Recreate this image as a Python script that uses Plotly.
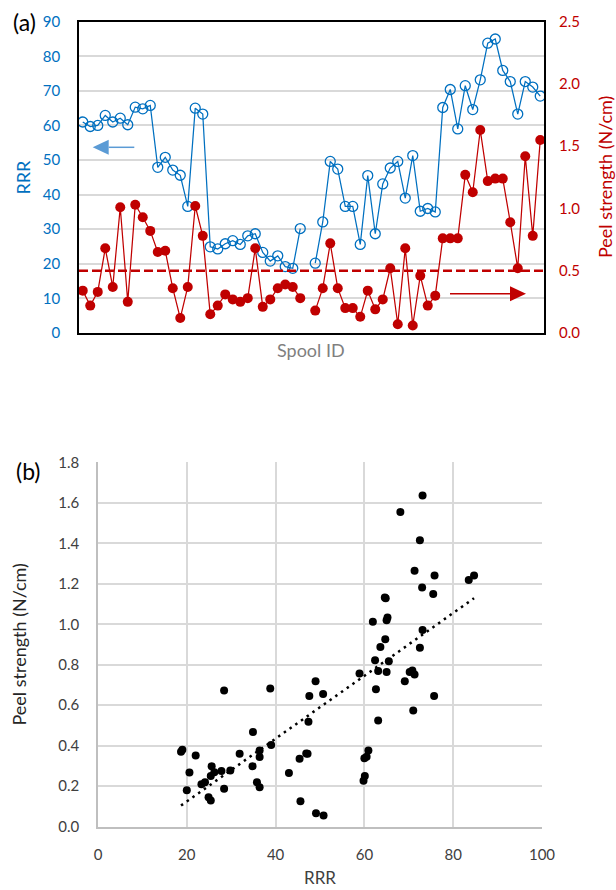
import numpy as np
import plotly.graph_objects as go

# ---------------- data ----------------
spool_id = list(range(1, 63))
rrr = [61.0, 59.7, 60.0, 62.9, 61.0, 62.1, 60.2, 65.3, 64.8, 65.8,
       47.9, 50.8, 47.1, 45.6, 36.6, 65.0, 63.3, 24.9, 24.3, 25.8,
       26.7, 25.6, 28.1, 28.7, 23.3, 20.8, 22.3, 19.2, 18.7, 30.2,
       None, 20.2, 32.1, 49.6, 47.4, 36.6, 36.6, 25.6, 45.5, 28.7,
       43.1, 47.7, 49.6, 39.0, 51.3, 35.2, 36.0, 35.0, 65.2, 70.4,
       59.0, 71.5, 64.6, 73.2, 83.8, 85.0, 75.9, 72.7, 63.3, 72.7,
       71.1, 68.5]
peel = [0.34, 0.22, 0.33, 0.68, 0.37, 1.01, 0.25, 1.03, 0.93, 0.82,
        0.65, 0.66, 0.36, 0.12, 0.37, 1.02, 0.78, 0.15, 0.22, 0.31,
        0.27, 0.25, 0.28, 0.68, 0.21, 0.27, 0.36, 0.39, 0.37, 0.28,
        None, 0.18, 0.36, 0.72, 0.36, 0.20, 0.20, 0.13, 0.34, 0.19,
        0.27, 0.52, 0.07, 0.68, 0.06, 0.46, 0.22, 0.30, 0.76, 0.76,
        0.76, 1.27, 1.13, 1.63, 1.22, 1.24, 1.24, 0.89, 0.52, 1.42,
        0.78, 1.55]
peel_threshold = 0.5

scatter_rrr = [18.7, 19.0, 22.0, 20.6, 20.0, 23.3, 24.1, 25.4, 25.6, 26.2,
               27.8, 24.9, 25.4, 28.4, 28.4, 29.8, 31.9, 34.9, 34.8, 36.4,
               36.4, 35.8, 36.4, 38.8, 39.0, 43.0, 45.4, 46.9, 47.2, 45.6,
               47.6, 49.0, 50.7, 47.4, 49.1, 50.8, 60.9, 60.5, 60.0, 60.1,
               59.8, 73.1, 68.1, 72.5, 71.3, 75.8, 83.5, 84.7, 73.0, 75.5,
               64.6, 64.8, 61.9, 65.0, 65.2, 73.1, 64.7, 72.5, 63.6, 62.4,
               65.5, 58.9, 63.1, 65.0, 70.2, 70.8, 71.3, 69.1, 62.6, 75.7,
               71.0, 63.1]
scatter_peel = [0.370, 0.380, 0.352, 0.268, 0.180, 0.210, 0.220, 0.250, 0.298, 0.269,
                0.275, 0.145, 0.129, 0.187, 0.673, 0.278, 0.360, 0.468, 0.299, 0.377,
                0.344, 0.220, 0.195, 0.683, 0.403, 0.265, 0.336, 0.362, 0.360, 0.126,
                0.645, 0.719, 0.655, 0.518, 0.066, 0.055, 0.376, 0.346, 0.338, 0.250,
                0.227, 1.636, 1.554, 1.415, 1.264, 1.241, 1.218, 1.241, 1.182, 1.149,
                1.132, 1.128, 1.012, 1.020, 1.033, 0.972, 0.926, 0.884, 0.888, 0.822,
                0.817, 0.757, 0.769, 0.764, 0.764, 0.772, 0.752, 0.719, 0.679, 0.645,
                0.574, 0.524]

rrr_ticks = list(range(0, 91, 10))
peel_ticks_top = [0.0, 0.5, 1.0, 1.5, 2.0, 2.5]
rrr_ticks_b = [0, 20, 40, 60, 80, 100]
peel_ticks_b = [0.0, 0.2, 0.4, 0.6, 0.8, 1.0, 1.2, 1.4, 1.6, 1.8]

# ---------------- styling ----------------
W, H = 616, 890
FONT = "Lato"
BLUE = "#0070C0"
RED = "#C00000"
ARROW_BLUE = "#5B9BD5"

def fx(px):
    return px / W

def fy(py):
    return 1 - py / H

fig = go.Figure()

fig.add_trace(go.Scatter(
    x=spool_id, y=rrr, mode="lines+markers", connectgaps=False,
    line=dict(color=BLUE, width=1.25),
    marker=dict(symbol="circle-open", size=10, color=BLUE, line=dict(width=1.3)),
    xaxis="x", yaxis="y", showlegend=False))

fig.add_trace(go.Scatter(
    x=spool_id, y=peel, mode="lines+markers", connectgaps=False,
    line=dict(color=RED, width=1.25),
    marker=dict(symbol="circle", size=10, color=RED),
    xaxis="x", yaxis="y2", showlegend=False))

fig.add_trace(go.Scatter(
    x=scatter_rrr, y=scatter_peel, mode="markers",
    marker=dict(symbol="circle", size=8, color="black"),
    xaxis="x2", yaxis="y3", showlegend=False))

# linear trendline fitted to the scatter data
coef = np.polyfit(scatter_rrr, scatter_peel, 1)
tx = np.array([min(scatter_rrr), max(scatter_rrr)])
fig.add_trace(go.Scatter(
    x=tx, y=np.polyval(coef, tx), mode="lines",
    line=dict(color="black", width=2.5, dash="2.5px,4.5px"),
    xaxis="x2", yaxis="y3", showlegend=False, hoverinfo="skip"))

tickfont_a = dict(family=FONT, size=15)
fig.update_layout(
    width=W, height=H,
    margin=dict(l=0, r=0, t=0, b=0),
    paper_bgcolor="white", plot_bgcolor="white",
    font=dict(family=FONT),
    xaxis=dict(domain=[fx(79), fx(544)], anchor="y", range=[0.5, 62.5],
               showticklabels=False, showgrid=False, zeroline=False,
               showline=True, mirror=True, linecolor="black", linewidth=1.5,
               automargin=False),
    yaxis=dict(domain=[fy(333), fy(21.7)], anchor="x", range=[0, 90],
               tickvals=rrr_ticks, showgrid=True, gridcolor="#D9D9D9", gridwidth=1.5,
               zeroline=False, showline=True, mirror=True, linecolor="black",
               linewidth=1.5, tickfont=dict(tickfont_a, color=BLUE),
               ticklabelstandoff=14, automargin=False),
    yaxis2=dict(overlaying="y", side="right", anchor="x", range=[0, 2.5],
                tickvals=peel_ticks_top, tickformat=".1f", showgrid=False,
                zeroline=False, showline=False,
                tickfont=dict(tickfont_a, color=RED),
                ticklabelstandoff=14, automargin=False),
    xaxis2=dict(domain=[fx(98), fx(542)], anchor="y3", range=[0, 100],
                tickvals=rrr_ticks_b, showgrid=True, gridcolor="#D9D9D9", gridwidth=1.5,
                zeroline=False, showline=True, linecolor="#BFBFBF", linewidth=1.5,
                tickfont=dict(tickfont_a, color="#404040"),
                ticklabelstandoff=14, automargin=False),
    yaxis3=dict(domain=[fy(826.7), fy(462.3)], anchor="x2", range=[0, 1.8],
                tickvals=peel_ticks_b, tickformat=".1f", showgrid=True,
                gridcolor="#D9D9D9", gridwidth=1.5, zeroline=False,
                showline=True, linecolor="#BFBFBF", linewidth=1.5,
                tickfont=dict(tickfont_a, color="#404040"),
                ticklabelstandoff=14, automargin=False),
)

# threshold dashed line
fig.add_shape(type="line", xref="x domain", yref="y2", x0=0, x1=1,
              y0=peel_threshold, y1=peel_threshold,
              line=dict(color=RED, width=2.5, dash="9px,4px"))

# direction arrows (decorations)
def arrow(x_tail, x_tip, y, color, head_len=16, half_h=7.5):
    sgn = 1 if x_tip > x_tail else -1
    base = x_tip - sgn * head_len
    fig.add_shape(type="line", xref="paper", yref="paper",
                  x0=fx(x_tail), x1=fx(base), y0=fy(y), y1=fy(y),
                  line=dict(color=color, width=1.5))
    path = (f"M {fx(x_tip)},{fy(y)} L {fx(base)},{fy(y - half_h)} "
            f"L {fx(base)},{fy(y + half_h)} Z")
    fig.add_shape(type="path", xref="paper", yref="paper", path=path,
                  fillcolor=color, line=dict(color=color, width=0))

arrow(134.3, 92.7, 147.3, ARROW_BLUE)
arrow(450, 526, 293.7, RED)

def label(text, px, py, size=18, color="black", angle=0):
    fig.add_annotation(text=text, x=fx(px), y=fy(py), xref="paper", yref="paper",
                       showarrow=False, xanchor="center", yanchor="middle",
                       textangle=angle, font=dict(family=FONT, size=size, color=color))

label("(a)", 24, 22, size=23)
label("(b)", 28, 471, size=23)
label("RRR", 22.5, 177, color=BLUE, angle=-90)
label("Peel strength (N/cm)", 605, 177, color=RED, angle=-90)
label("Spool ID", 311, 350, color="#7F7F7F")
label("Peel strength (N/cm)", 18.5, 645, color="#262626", angle=-90)
label("RRR", 320, 877, size=17, color="#404040")

# remove the browser's default page margin so the figure fills the window
fig.write_html("out.html",
               config={"displayModeBar": False},
               post_script="document.body.style.margin='0px';"
                           "document.body.style.overflow='hidden';")
